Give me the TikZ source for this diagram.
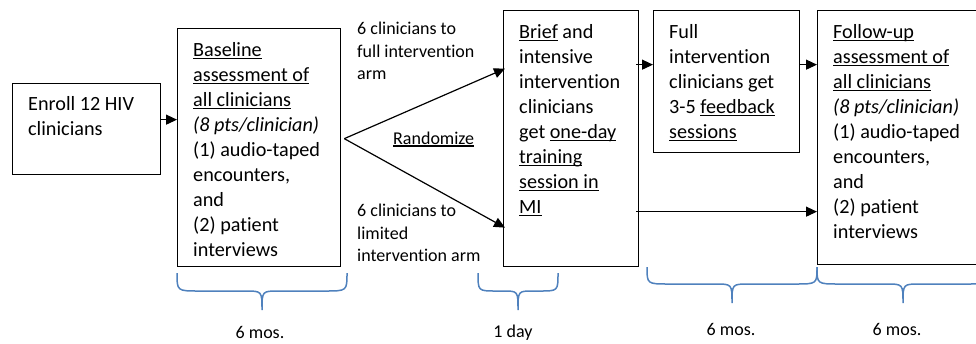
\documentclass[tikz,border=0pt]{standalone}
\usepackage{fontspec}
\setmainfont{Carlito}[Ligatures=NoCommon]
\usetikzlibrary{arrows.meta,calc}
\definecolor{braceblue}{RGB}{79,129,189}
\newcommand\myul[1]{\setbox0\hbox{#1}\rlap{\rule[-2.6pt]{\wd0}{1.2pt}}\box0\relax}
\begin{document}
\begin{tikzpicture}[x=1pt,y=-1pt,
  box/.style={draw=black,line width=1.3pt,inner sep=0pt,anchor=north west},
  txt/.style={anchor=north west,inner sep=0pt,align=left,font=\fontsize{20.2}{25}\selectfont},
  lbl/.style={anchor=north west,inner sep=0pt,align=left,font=\fontsize{18}{22.3}\selectfont},
  dur/.style={anchor=base,inner sep=0pt,font=\fontsize{18}{22}\selectfont},
  arr/.style={line width=1.2pt,-{Triangle[length=11pt,width=10pt]}},
  brc/.style={draw=braceblue,line width=1.5pt}]
\useasboundingbox (0,0) rectangle (976,343);
\clip (0,0) rectangle (976,343);
% boxes
\node[box,minimum width=148pt,minimum height=91pt] (enroll) at (12,83) {};
\node[box,minimum width=163pt,minimum height=238pt] (base) at (177,28) {};
\node[box,minimum width=135pt,minimum height=256pt] (brief) at (503,10) {};
\node[box,minimum width=146pt,minimum height=142pt] (full) at (653,10) {};
\node[box,minimum width=176pt,minimum height=254pt] (follow) at (817,10) {};
% texts
\node[txt] (tenroll) at ([xshift=16pt,yshift=-13pt]enroll.north west) {Enroll 12 HIV\\clinicians};
\node[txt] (tbase) at ([xshift=16pt,yshift=-14pt]base.north west) {\myul{Baseline}\\\myul{assessment of}\\\myul{all clinicians}\\\textit{(8 pts/clinician)}\\(1) audio-taped\\encounters,\\and\\(2) patient\\interviews};
\node[txt] (tbrief) at ([xshift=16pt,yshift=-14pt]brief.north west) {\myul{Brief} and\\intensive\\intervention\\clinicians\\get \myul{one-day}\\\myul{training}\\\myul{session in}\\\myul{MI}};
\node[txt] (tfull) at ([xshift=16pt,yshift=-14pt]full.north west) {Full\\intervention\\clinicians get\\3-5 \myul{feedback}\\\myul{sessions}};
\node[txt] (tfollow) at ([xshift=16pt,yshift=-14pt]follow.north west) {\myul{Follow-up}\\\myul{assessment of}\\\myul{all clinicians}\\\textit{(8 pts/clinician)}\\(1) audio-taped\\encounters,\\and\\(2) patient\\interviews};
% labels
\node[lbl] (lfull) at (357,22) {6 clinicians to\\full intervention\\arm};
\node[lbl] (llim) at (357,204) {6 clinicians to\\limited\\intervention arm};
\node[anchor=base west,inner sep=0pt,font=\fontsize{18}{22}\selectfont] (rand) at (393,144) {\myul{Randomize}};
% connectors
\draw[arr] ([yshift=9.5pt]enroll.east) -- ([yshift=9.5pt]enroll.east -| base.west);
\coordinate (split) at ([xshift=3pt,yshift=9pt]base.east);
\draw[arr] (split) -- ([xshift=2pt,yshift=70pt]brief.west);
\draw[arr] (split) -- ([xshift=2pt,yshift=-89pt]brief.west);
\draw[arr] ([xshift=-3pt,yshift=17pt]full.west -| brief.east) -- ([yshift=17pt]full.west);
\draw[arr] ([yshift=17pt]full.east) -- ([yshift=17pt]full.east -| follow.west);
\draw[arr] ([xshift=-3pt,yshift=-73pt]brief.east) -- ([yshift=-73pt]brief.east -| follow.west);
% braces
\draw[brc] (177,273) .. controls (177,291) .. (199,291) -- (245,291) .. controls (262,291) .. (262,310) .. controls (262,291) .. (279,291) -- (325,291) .. controls (347,291) .. (347,273);
\draw[brc] (478,273) .. controls (478,291) .. (496,291) -- (503,291) .. controls (518,291) .. (518,310) .. controls (518,291) .. (533,291) -- (540,291) .. controls (558,291) .. (558,273);
\draw[brc] (647,267) .. controls (647,284) .. (669,284) -- (715,284) .. controls (732,284) .. (732,303) .. controls (732,284) .. (749,284) -- (795,284) .. controls (817,284) .. (817,267);
\draw[brc] (817,267) .. controls (817,284) .. (839,284) -- (886,284) .. controls (903,284) .. (903,303) .. controls (903,284) .. (920,284) -- (967,284) .. controls (989,284) .. (989,267);
% durations
\node[dur] (d1) at (260,338) {6 mos.};
\node[dur] (d2) at (513,337) {1 day};
\node[dur] (d3) at (731,335) {6 mos.};
\node[dur] (d4) at (897,335) {6 mos.};
\end{tikzpicture}
\end{document}
